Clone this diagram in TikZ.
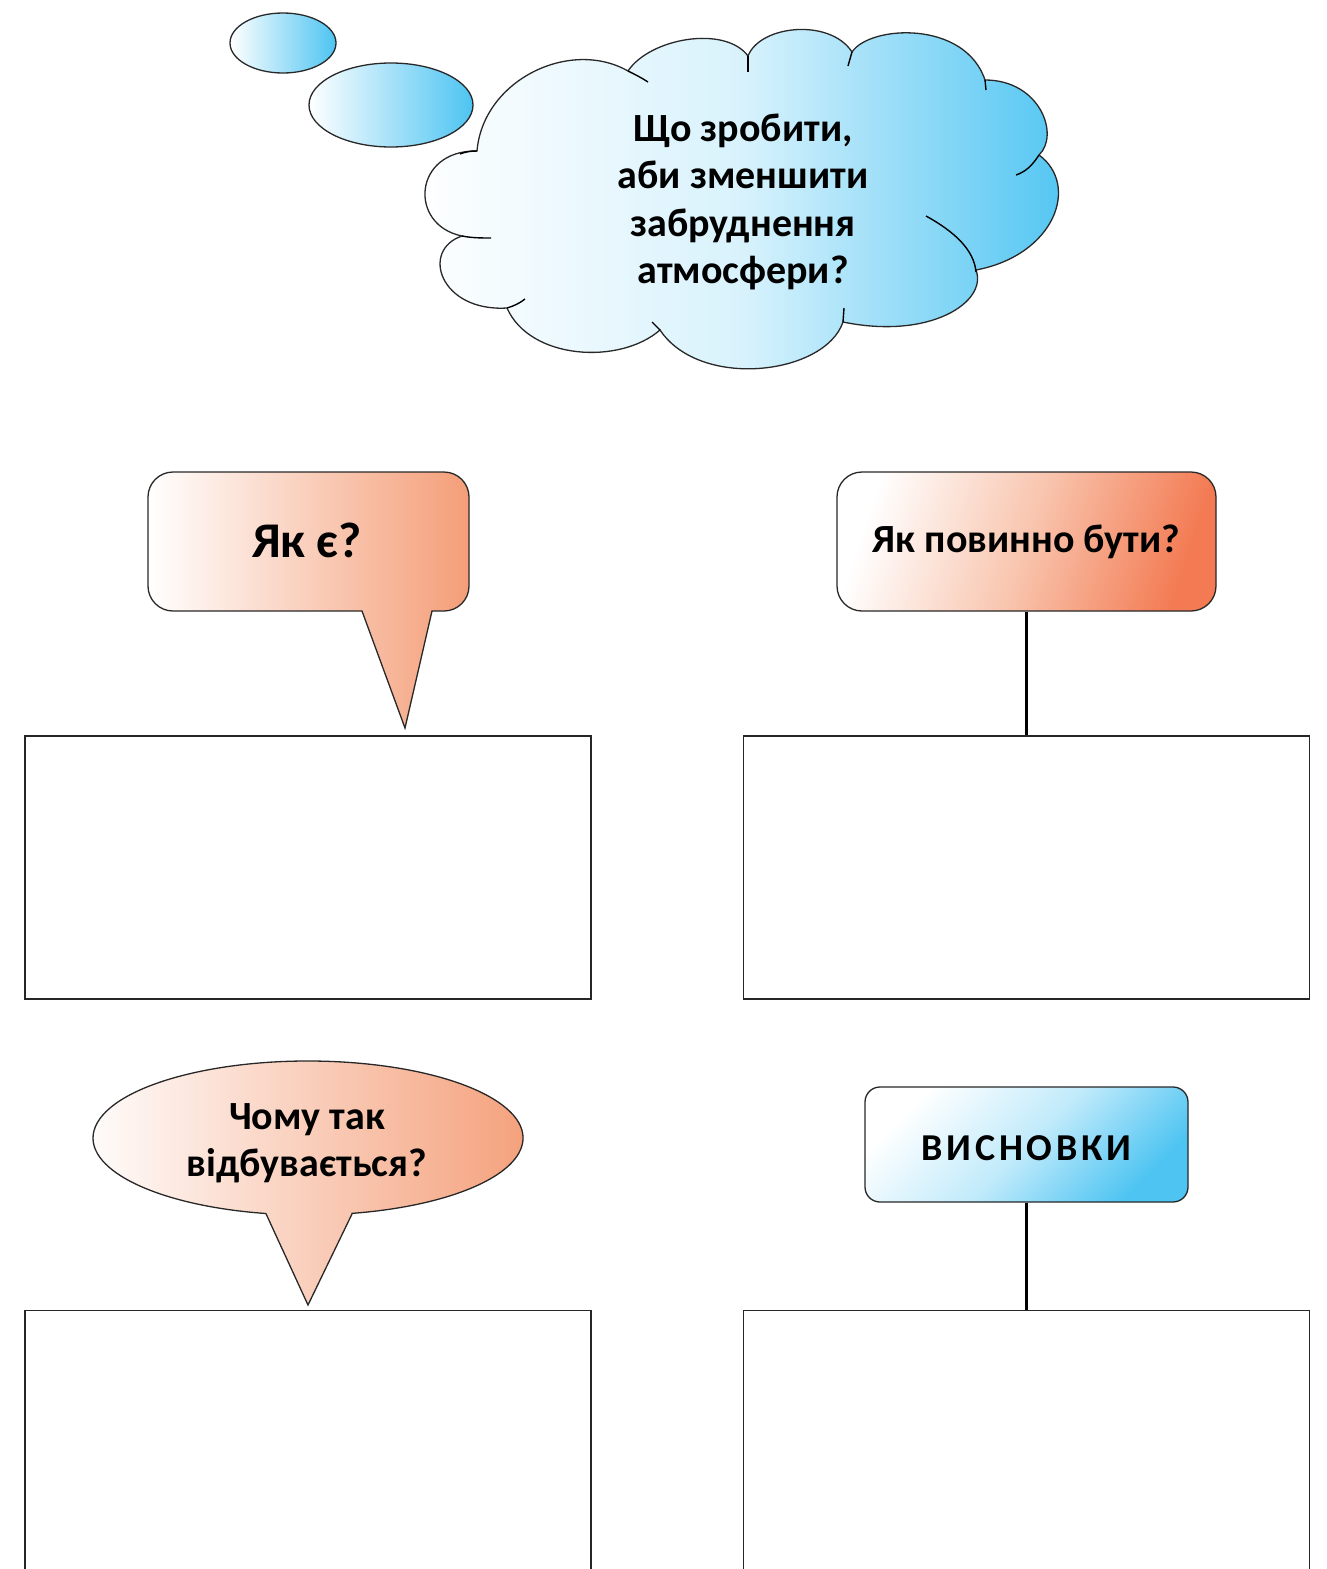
\documentclass[tikz,border=0pt]{standalone}
\usepackage{fontspec}
\setmainfont{Carlito}
\usetikzlibrary{shapes.geometric}
\definecolor{skyb}{RGB}{77,196,242}
\definecolor{salm}{RGB}{244,158,120}
\definecolor{salmd}{RGB}{243,122,82}
\definecolor{edge}{RGB}{40,40,40}
\begin{document}
\begin{tikzpicture}[x=1pt,y=-1pt,
  outl/.style={draw=edge, line width=1.3pt},
  frame/.style={draw=black!85, line width=1.3pt, fill=white, minimum width=566pt, minimum height=263pt, inner sep=0pt},
  link/.style={draw=black, line width=2.4pt},
  lbl/.style={font=\bfseries, text=black, align=center, inner sep=0pt},
  tick/.style={draw=black, line width=1.4pt}]
\useasboundingbox (0,0) rectangle (1326,1569);
\clip (0,0) rectangle (1326,1569);
\fill[white] (0,0) rectangle (1326,1569);

% thought bubbles
\draw[outl, left color=white, right color=skyb] (283,43) ellipse [x radius=53, y radius=30];
\draw[outl, left color=white, right color=skyb] (391,105) ellipse [x radius=82, y radius=42];

% cloud
\draw[outl, left color=white, right color=skyb, middle color=skyb!22]
  (477,151) .. controls (483,80) and (570,38) .. (628,71)
  .. controls (650,38) and (725,25) .. (748,56)
  .. controls (760,25) and (830,18) .. (852,52)
  .. controls (870,25) and (965,20) .. (985,80)
  .. controls (1040,80) and (1060,135) .. (1039,155)
  .. controls (1080,185) and (1055,255) .. (976,270)
  .. controls (988,302) and (930,340) .. (843,322)
  .. controls (825,375) and (700,390) .. (660,330)
  .. controls (620,365) and (530,360) .. (507,308)
  .. controls (440,312) and (420,250) .. (462,236)
  .. controls (408,225) and (413,150) .. (477,151) -- cycle;
\draw[tick] (628,71) .. controls (636,75) and (642,78) .. (648,82);
\draw[tick] (748,56) -- (748,72);
\draw[tick] (852,52) -- (848,66);
\draw[tick] (985,80) -- (986,90);
\draw[tick] (1039,155) .. controls (1032,166) and (1025,172) .. (1016,175);
\draw[tick] (926,216) .. controls (955,232) and (974,250) .. (976,272);
\draw[tick] (844,308) -- (843,322);
\draw[tick] (660,330) -- (652,322);
\draw[tick] (507,308) .. controls (514,306) and (520,303) .. (525,299);
\draw[tick] (462,236) .. controls (472,238) and (482,238) .. (491,238);
\draw[tick] (477,151) .. controls (470,151) and (465,152) .. (460,154);
\node[lbl, font=\bfseries\fontsize{40}{47.5}\selectfont] (q) at (743,202)
  {Що зробити,\\аби зменшити\\забруднення\\атмосфери?};

% callout 1: Як є?
\draw[outl, left color=white, right color=salm]
  (173,472) -- (444,472) .. controls (457.8,472) and (469,483.2) .. (469,497)
  -- (469,586) .. controls (469,599.8) and (457.8,611) .. (444,611)
  -- (432,611) -- (405,728) -- (362,611) -- (173,611)
  .. controls (159.2,611) and (148,599.8) .. (148,586)
  -- (148,497) .. controls (148,483.2) and (159.2,472) .. (173,472) -- cycle;
\node[lbl, font=\bfseries\fontsize{50}{60}\selectfont] (c1) at (307,540) {Як є?};

% callout 2: Як повинно бути?
\node[outl, rounded corners=25pt, minimum width=379pt, minimum height=139pt, inner sep=0pt,
  top color=white, bottom color=salmd, middle color=salm!60, shading angle=72] (c2) at (1026.5,541.5) {};
\node[lbl, font=\bfseries\fontsize{40}{48}\selectfont] (t2) at (c2.center) {Як повинно бути?};

% boxes
\node[frame] (b1) at (308,867.5) {};
\node[frame] (b2) at (1026.5,867.5) {};
\node[frame, minimum height=300pt, anchor=north] (b3) at (308,1310) {};
\node[frame, minimum height=300pt, anchor=north] (b4) at (1026.5,1310) {};

\draw[link] (c2.south) -- (b2.north);

% callout 3: Чому так відбувається?
\draw[outl, left color=white, right color=salm]
  (352,1214) -- (308,1305) -- (265.9,1213.5)
  arc[start angle=101.3, end angle=438.2, x radius=215, y radius=77] -- cycle;
\node[lbl, font=\bfseries\fontsize{40}{47}\selectfont] (c3) at (307,1143) {Чому так\\відбувається?};

% висновки
\node[outl, rounded corners=15pt, minimum width=323pt, minimum height=115pt, inner sep=0pt,
  top color=white, bottom color=skyb, middle color=skyb!35, shading angle=45] (c4) at (1026.5,1144.5) {};
\node[lbl, font=\bfseries\fontsize{38}{44}\selectfont, text width=300pt] (t4) at (1026.5,1148) {\addfontfeatures{LetterSpace=10}ВИСНОВКИ};
\draw[link] (c4.south) -- (b4.north);
\end{tikzpicture}
\end{document}
